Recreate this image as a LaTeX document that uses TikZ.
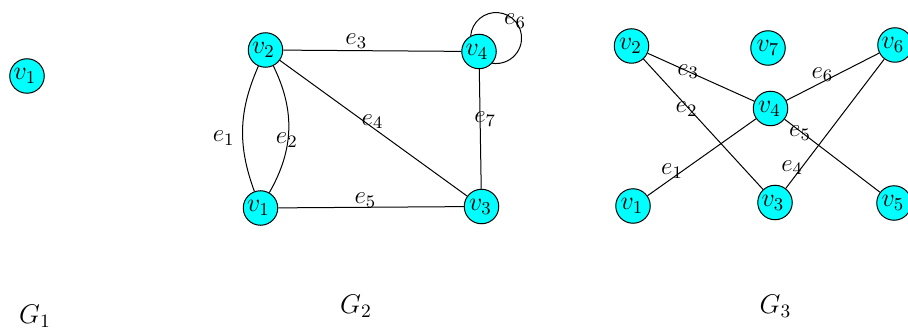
\documentclass[tikz,border=0pt]{standalone}
\usepackage{fix-cm}
\definecolor{vcyan}{RGB}{0,255,255}
\tikzset{
  vert/.style={circle, draw=black, fill=vcyan, minimum size=17.25pt, inner sep=0pt, line width=0.5pt, font=\fontsize{13}{15}\selectfont},
  elab/.style={inner sep=0pt, font=\fontsize{12.5}{15}\selectfont},
  glab/.style={inner sep=0pt, font=\fontsize{13.5}{16}\selectfont},
  edgeline/.style={line width=0.5pt, draw=black}
}
\begin{document}
\begin{tikzpicture}[x=0.5pt, y=0.5pt]
\clip (0,0) rectangle (908,332);
\fill[white] (0,0) rectangle (908,332);
% G1
\node[vert] (a1) at (27,256) {$v_1$\kern2pt};
\node[glab] (g1) at (35,16) {$G_1$};
% G2
\node[vert] (b2) at (265.5,282) {$v_2$\kern2pt};
\node[vert] (b1) at (260.5,124) {$v_1$\kern2pt};
\node[vert] (b4) at (479,280.5) {$v_4$\kern2pt};
\node[vert] (b3) at (481.5,125.5) {$v_3$\kern1pt};
\node[glab] (g2) at (356,26) {$G_2$};
\draw[edgeline] (b2) to[bend right=22] node[elab, pos=.5, xshift=-9.5pt, yshift=-5pt] (le1) {$e_1$} (b1);
\draw[edgeline] (b2) to[bend left=28] node[elab, pos=.5, xshift=-1pt, yshift=-5pt] (le2) {$e_2$} (b1);
\draw[edgeline] (b2) -- node[elab, pos=.41, yshift=4.6pt] (le3) {$e_3$} (b4);
\draw[edgeline] (b2) -- node[elab, pos=.48, xshift=1.4pt, yshift=1.9pt] (le4) {$e_4$} (b3);
\draw[edgeline] (b1) -- node[elab, pos=.47, yshift=3.6pt] (le5) {$e_5$} (b3);
\draw[edgeline] (b4) -- node[elab, pos=.42, xshift=2.5pt] (le7) {$e_7$} (b3);
\draw[edgeline] (b4.118) arc[start angle=175, end angle=-100, radius=12.75pt];
\node[elab] (le6) at (515,311) {$e_6$};
% G3
\node[vert] (c2) at (631.5,286) {$v_2$\kern1pt};
\node[vert] (c7) at (768,284) {$v_7$};
\node[vert] (c6) at (895,287) {$v_6$\kern2pt};
\node[vert] (c4) at (770.5,223.5) {$v_4$\kern1pt};
\node[vert] (c1) at (633,126) {$v_1$\kern1pt};
\node[vert] (c3) at (775,129.5) {$v_3$\kern2pt};
\node[vert] (c5) at (894,129) {$v_5$\kern1pt};
\node[glab] (g3) at (775.5,26) {$G_3$};
\draw[edgeline] (c2) -- node[elab, pos=.38] (me3) {$e_3$} (c4);
\draw[edgeline] (c2) -- node[elab, pos=.37, xshift=-0.6pt, yshift=-0.9pt] (me2) {$e_2$} (c3);
\draw[edgeline] (c1) -- node[elab, pos=.27, xshift=-2.4pt, yshift=1.9pt] (me1) {$e_1$} (c4);
\draw[edgeline] (c4) -- node[elab, pos=.43, xshift=-1.9pt, yshift=2.7pt] (me6) {$e_6$} (c6);
\draw[edgeline] (c4) -- node[elab, pos=.17, xshift=-0.4pt, yshift=-0.8pt] (me5) {$e_5$} (c5);
\draw[edgeline] (c3) -- node[elab, pos=.15, xshift=-4.2pt, yshift=0.7pt] (me4) {$e_4$} (c6);
\end{tikzpicture}
\end{document}
